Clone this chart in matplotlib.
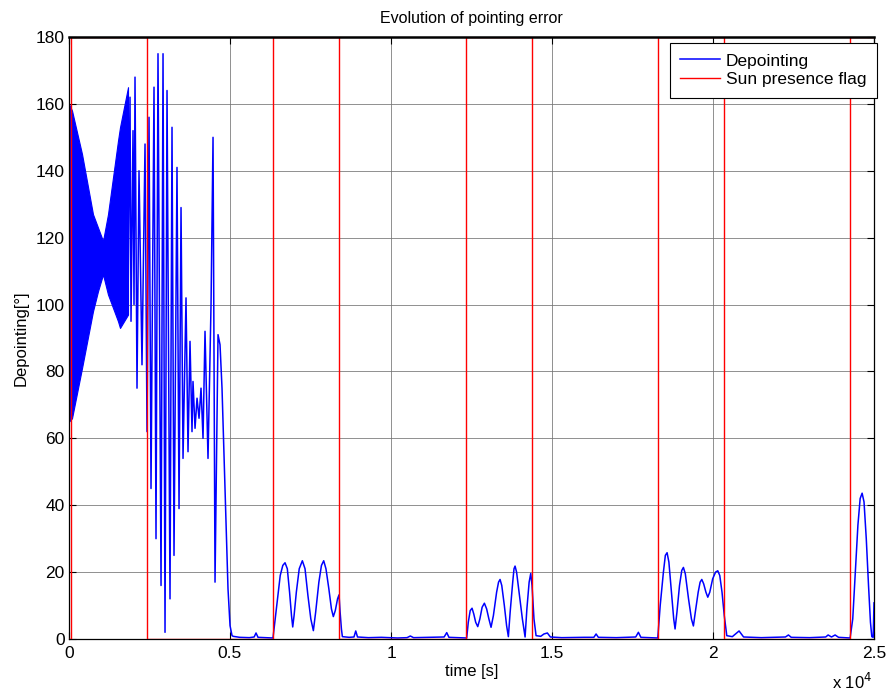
import matplotlib
matplotlib.use("Agg")
import matplotlib.pyplot as plt

plt.rcParams['font.family'] = ['Liberation Sans', 'DejaVu Sans']

# ---- Data ----
# dense oscillation band at start (envelopes)
band_t = [0, 93, 404, 745, 901, 1056, 1211, 1522, 1584, 1833]
band_upper = [160, 158, 145, 127, 123, 119, 127, 149, 153, 165]
band_lower = [65, 66, 81, 98, 104, 109, 103, 95, 93, 97]

# depointing line (after band)
dep_t = [1833, 1895, 1926, 1988, 2019, 2050, 2112, 2174, 2267, 2361, 2423, 2485,
         2547, 2640, 2702, 2764, 2858, 2920, 2982, 3044, 3137, 3199, 3261, 3354,
         3417, 3479, 3541, 3634, 3696, 3758, 3820, 3851, 3914, 3976, 4038, 4100,
         4162, 4224, 4317, 4411, 4473, 4535, 4628, 4690, 4752, 4814, 4876, 4938,
         5001, 5063,
         5100, 5300, 5600, 5750, 5808, 5870, 6100, 6335,
         6450, 6560, 6640, 6709, 6780, 6850, 6910, 6948, 6990, 7060, 7150, 7247,
         7330, 7420, 7510, 7589, 7660, 7760, 7840, 7910, 7980, 8070, 8150, 8209,
         8270, 8340, 8386, 8420, 8460, 8490,
         8700, 8850, 8905, 8960, 9300, 9700, 10200, 10500, 10600, 10700, 11200,
         11650, 11731, 11800, 12100, 12330,
         12351, 12400, 12460, 12517, 12570, 12630, 12694, 12760, 12830, 12900,
         12970, 13040, 13107, 13180, 13280, 13340, 13387, 13440, 13520, 13590,
         13645, 13700, 13780, 13820, 13853, 13900, 13990, 14080, 14164, 14220,
         14290, 14340, 14380, 14440, 14505,
         14650, 14750, 14856, 14950, 15300, 16000, 16300, 16369, 16440, 17000,
         17600, 17683, 17760, 18000, 18285,
         18360, 18460, 18520, 18574, 18630, 18720, 18780, 18822, 18880, 18960,
         19030, 19081, 19140, 19240, 19330, 19391, 19450, 19540, 19600, 19652,
         19710, 19780, 19838, 19900, 19990, 20080, 20148, 20210, 20280, 20350,
         20428,
         20600, 20810, 20950, 21500, 22250, 22342, 22430, 23000, 23500, 23575,
         23680, 23792, 23900, 24258,
         24340, 24420, 24500, 24570, 24631, 24690, 24760, 24830, 24890, 24932,
         24975, 25000]
dep_v = [100, 162, 95, 152, 100, 168, 75, 140, 82, 148, 62, 156,
         45, 165, 30, 175, 16, 175, 2, 164, 12, 153, 25, 141,
         39, 129, 54, 102, 56, 89, 62, 77, 63, 72, 66, 75,
         60, 92, 54, 100, 150, 17, 91, 88, 75, 55, 35, 15,
         4, 1,
         0.8, 0.5, 0.4, 0.6, 1.8, 0.5, 0.4, 0.3,
         10, 19, 22, 22.8, 21, 14, 7, 3.6, 7, 14, 21, 23.4,
         21, 13, 6, 2.5, 8, 17, 22, 23.4, 21, 15, 9, 6.7,
         8.5, 12, 13.2, 8, 3, 0.7,
         0.5, 0.6, 2.4, 0.6, 0.4, 0.5, 0.3, 0.4, 0.9, 0.4, 0.5,
         0.6, 1.9, 0.5, 0.4, 0.3,
         0.3, 5, 8.5, 9.2, 7.5, 5, 3.7, 6, 9.5, 10.7,
         9, 6, 3.5, 7, 14, 17, 17.8, 16, 10, 4,
         0.7, 8, 17, 21, 21.8, 20, 13, 6, 0.6, 9,
         17, 19.6, 16, 6, 1.0,
         0.8, 1.5, 1.8, 0.6, 0.4, 0.5, 0.5, 1.5, 0.5, 0.4,
         0.6, 2.0, 0.5, 0.4, 0.3,
         10, 20, 25, 25.8, 23, 13, 6, 3.0, 8, 16,
         20.5, 21.4, 19.5, 12, 6, 3.9, 8, 14, 17, 17.8,
         16.5, 14, 12.5, 14, 18, 20, 20.4, 19, 14, 7,
         1.0,
         0.7, 2.4, 0.6, 0.4, 0.6, 1.2, 0.5, 0.4, 0.6, 1.2,
         0.6, 1.2, 0.5, 0.3,
         6, 20, 34, 42, 43.6, 41, 30, 16, 5, 0.7,
         0.5, 10.8]

# sun presence flag (step edges and levels)
flag_edges = [0, 60, 2420, 6335, 8385, 12330, 14380, 18290, 20340, 24255, 25000]
flag_levels = [0, 180, 0, 180, 0, 180, 0, 180, 0, 180]

xticks = [0, 5000, 10000, 15000, 20000, 25000]
xticklabels = ['0', '0.5', '1', '1.5', '2', '2.5']
yticks = [0, 20, 40, 60, 80, 100, 120, 140, 160, 180]

# ---- Plot ----
fig = plt.figure(figsize=(8.92, 6.95), dpi=100)
ax = fig.add_axes([69/892, 1-639/695, (874-69)/892, (639-37)/695])

blue = (0, 0, 1)
ax.fill_between(band_t, band_lower, band_upper, color=blue, linewidth=0.8, zorder=2)
line_dep, = ax.plot(dep_t, dep_v, color=blue, linewidth=1.1, zorder=3, label='Depointing')

fx, fy = [], []
for i, lvl in enumerate(flag_levels):
    fx += [flag_edges[i], flag_edges[i+1]]
    fy += [lvl, lvl]
line_flag, = ax.plot(fx, fy, color=(1, 0, 0), linewidth=1.0, zorder=4,
                     label='Sun presence flag')

ax.set_xlim(0, 25000)
ax.set_ylim(0, 180)
ax.set_xticks(xticks)
ax.set_xticklabels(xticklabels)
ax.set_yticks(yticks)
ax.grid(True, color=(0.45, 0.45, 0.45), linewidth=0.7, linestyle='-', alpha=0.8, zorder=0)
ax.set_axisbelow(True)
ax.tick_params(direction='in', top=True, right=True, length=5, width=0.8,
               labelsize=12.5)
ax.tick_params(axis='y', pad=3)
ax.tick_params(axis='x', pad=5)
for s in ax.spines.values():
    s.set_linewidth(0.9)
ax.spines['top'].set_zorder(10)
ax.spines['top'].set_linewidth(1.8)

ax.set_title('Evolution of pointing error', fontsize=11.5, pad=10)
ax.set_xlabel('time [s]', fontsize=12, labelpad=2)
ax.set_ylabel('Depointing[°]', fontsize=12, labelpad=5)
fig.text(832/892, 1-692/695, 'x 10$^{4}$', fontsize=12, ha='left', va='bottom')

leg = ax.legend(handles=[line_dep, line_flag], loc='upper right',
                bbox_to_anchor=((877-69)/805, (639-43)/602), fontsize=12.5,
                fancybox=False, framealpha=1, edgecolor='black', borderpad=0.6,
                handlelength=2.3, handletextpad=0.35, labelspacing=0.2,
                borderaxespad=0.0)
leg.get_frame().set_linewidth(0.8)
leg.set_zorder(20)

fig.savefig('out.png', dpi=100)
